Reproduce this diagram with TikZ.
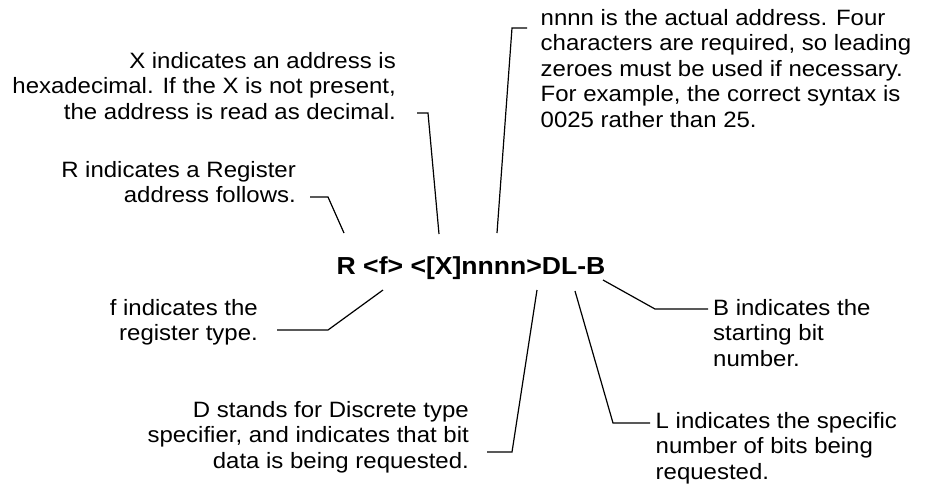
\documentclass[tikz,border=0pt]{standalone}
\usepackage{fontspec}
\setmainfont{Liberation Sans}[FakeStretch=1.08]
\newcommand\descfont{\fontsize{22.2}{25.6}\selectfont}
\newcommand\codefont{\fontsize{24.6}{28}\selectfont\bfseries}
\begin{document}
\begin{tikzpicture}[x=1pt,y=-1pt,
  desc/.style={inner sep=0pt, font=\descfont},
  conn/.style={line width=1.2pt, line join=miter}]
\useasboundingbox (0,0) rectangle (931,483);
% main code string
\node[inner sep=0pt, anchor=base west, font=\codefont] (code) at (336.5,274) {R <f> <[X]nnnn>DL-B};
% descriptions
\node[desc, anchor=base east] (tx) at (396,68) {\begin{tabular}[t]{@{}r@{}}X indicates an address is\\hexadecimal. If the X is not present,\\the address is read as decimal.\end{tabular}};
\node[desc, anchor=base east] (tr) at (296,177) {\begin{tabular}[t]{@{}r@{}}R indicates a Register\\address follows.\end{tabular}};
\node[desc, anchor=base west] (tn) at (540.5,25) {\begin{tabular}[t]{@{}l@{}}nnnn is the actual address. Four\\characters are required, so leading\\zeroes must be used if necessary.\\For example, the correct syntax is\\0025 rather than 25.\end{tabular}};
\node[desc, anchor=base east] (tf) at (258,315) {\begin{tabular}[t]{@{}r@{}}f indicates the\\register type.\end{tabular}};
\node[desc, anchor=base east] (td) at (469,417) {\begin{tabular}[t]{@{}r@{}}D stands for Discrete type\\specifier, and indicates that bit\\data is being requested.\end{tabular}};
\node[desc, anchor=base west] (tl) at (655.5,428.3) {\begin{tabular}[t]{@{}l@{}}L indicates the specific\\number of bits being\\requested.\end{tabular}};
\node[desc, anchor=base west] (tb) at (713,315) {\begin{tabular}[t]{@{}l@{}}B indicates the\\starting bit\\number.\end{tabular}};
% connector points
\coordinate (x1) at (417,113); \coordinate (x2) at (428,113); \coordinate (x3) at (439,234);
\coordinate (r1) at (310,197); \coordinate (r2) at (328,197); \coordinate (r3) at (344,233);
\coordinate (n1) at (527,28);  \coordinate (n2) at (512,28);  \coordinate (n3) at (497,233);
\coordinate (f1) at (277,330); \coordinate (f2) at (328,330); \coordinate (f3) at (383,290);
\coordinate (d1) at (487,452); \coordinate (d2) at (512,452); \coordinate (d3) at (537,290);
\coordinate (l1) at (575,291); \coordinate (l2) at (613,423); \coordinate (l3) at (650,423);
\coordinate (b1) at (603,280); \coordinate (b2) at (655,309); \coordinate (b3) at (708,309);
\draw[conn] (x1) -- (x2) -- (x3);
\draw[conn] (r1) -- (r2) -- (r3);
\draw[conn] (n1) -- (n2) -- (n3);
\draw[conn] (f1) -- (f2) -- (f3);
\draw[conn] (d1) -- (d2) -- (d3);
\draw[conn] (l1) -- (l2) -- (l3);
\draw[conn] (b1) -- (b2) -- (b3);
\end{tikzpicture}
\end{document}
